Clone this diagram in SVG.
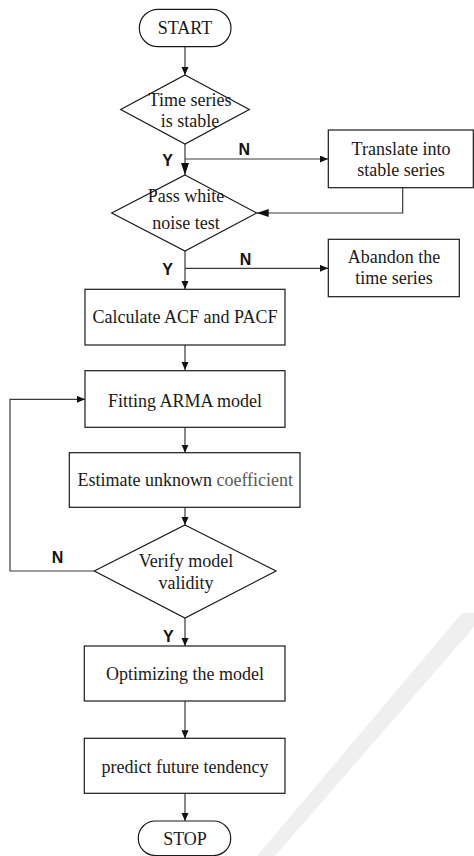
<svg xmlns="http://www.w3.org/2000/svg" width="474" height="856" viewBox="0 0 474 856">
<style>
.shape{fill:#fff;stroke:#1a1a1a;stroke-width:1.2}
.t{font-family:"Liberation Serif","Times New Roman",serif;font-size:18px;fill:#1a1a1a;text-anchor:middle}
.lbl{font-family:"Liberation Sans",Arial,sans-serif;font-size:16px;font-weight:bold;fill:#111;text-anchor:middle}
.c{fill:none;stroke:#3a3a3a;stroke-width:1.2}
</style>
<defs>
<marker id="a" markerUnits="userSpaceOnUse" markerWidth="9" markerHeight="8" refX="8" refY="3.5" orient="auto">
<path d="M0,0 L8,3.5 L0,7 z" fill="#111"/>
</marker>
<marker id="b" markerUnits="userSpaceOnUse" markerWidth="13" markerHeight="9" refX="12" refY="4" orient="auto">
<path d="M0,0 L12,4 L0,8 z" fill="#111"/>
</marker>
</defs>
<rect width="474" height="856" fill="#fff"/>
<g id="watermark">
<polygon points="462,613 480,613 480,620 275,856 257,856" fill="#efefef"/>
</g>
<g id="connectors">
<line class="c" x1="185" y1="47" x2="185" y2="75" marker-end="url(#a)"/>
<line class="c" x1="185" y1="144" x2="185" y2="175" marker-end="url(#b)"/>
<line class="c" x1="185" y1="159" x2="328" y2="159" marker-end="url(#a)"/>
<polyline class="c" points="402.7,188 402.7,213 256.7,213" marker-end="url(#b)"/>
<line class="c" x1="185" y1="251" x2="185" y2="289" marker-end="url(#a)"/>
<line class="c" x1="185" y1="268.3" x2="328" y2="268.3" marker-end="url(#a)"/>
<line class="c" x1="185" y1="345" x2="185" y2="370" marker-end="url(#a)"/>
<polyline class="c" points="94.3,571 10,571 10,399.3 85,399.3" marker-end="url(#a)"/>
<line class="c" x1="185" y1="427.3" x2="185" y2="452.7" marker-end="url(#a)"/>
<line class="c" x1="185" y1="507.3" x2="185" y2="525" marker-end="url(#a)"/>
<line class="c" x1="185" y1="618" x2="185" y2="646" marker-end="url(#a)"/>
<line class="c" x1="185" y1="701" x2="185" y2="738.3" marker-end="url(#a)"/>
<line class="c" x1="185" y1="793.3" x2="185" y2="821" marker-end="url(#a)"/>
<text class="lbl" x="167.5" y="165.7">Y</text>
<text class="lbl" x="244.2" y="155">N</text>
<text class="lbl" x="167.5" y="275">Y</text>
<text class="lbl" x="245.5" y="265">N</text>
<text class="lbl" x="57.5" y="563.3">N</text>
<text class="lbl" x="168.3" y="641.7">Y</text>
</g>
<g id="start">
<rect class="shape" x="139.3" y="9.3" width="91.7" height="37.4" rx="18.7"/>
<text class="t" x="185" y="34.3">START</text>
</g>
<g id="stable">
<polygon class="shape" points="185,75 249.3,109.5 185,144 120.7,109.5"/>
<text class="t" x="190" y="106">Time series</text>
<text class="t" x="190" y="126.7">is stable</text>
</g>
<g id="translate">
<rect class="shape" x="328.3" y="130" width="145" height="57.7"/>
<text class="t" x="401" y="155">Translate into</text>
<text class="t" x="401" y="175.7">stable series</text>
</g>
<g id="whitenoise">
<polygon class="shape" points="185,175 256.7,213 185,251 111.7,213"/>
<text class="t" x="186" y="201.7">Pass white</text>
<text class="t" x="186" y="229.3">noise test</text>
</g>
<g id="abandon">
<rect class="shape" x="328.3" y="239.3" width="131" height="57.4"/>
<text class="t" x="394" y="263.3">Abandon the</text>
<text class="t" x="394" y="284">time series</text>
</g>
<g id="acf">
<rect class="shape" x="85" y="289.3" width="200" height="55.7"/>
<text class="t" x="185" y="322.7">Calculate ACF and PACF</text>
</g>
<g id="fitting">
<rect class="shape" x="85" y="370.7" width="200" height="56.6"/>
<text class="t" x="185" y="406.7">Fitting ARMA model</text>
</g>
<g id="estimate">
<rect class="shape" x="69.3" y="452.7" width="230.7" height="54.6"/>
<text class="t" x="185.3" y="486">Estimate unknown <tspan fill="#5a5a5a">coefficient</tspan></text>
</g>
<g id="verify">
<polygon class="shape" points="185,525 276,571 185,618 94.3,571"/>
<text class="t" x="186" y="566.7">Verify model</text>
<text class="t" x="186" y="589.3">validity</text>
</g>
<g id="optimize">
<rect class="shape" x="84.3" y="646" width="200.7" height="55"/>
<text class="t" x="185" y="680">Optimizing the model</text>
</g>
<g id="predict">
<rect class="shape" x="84.3" y="738.3" width="200.7" height="55"/>
<text class="t" x="185" y="773.3">predict future tendency</text>
</g>
<g id="stop">
<rect class="shape" x="138.3" y="821" width="92.4" height="34.5" rx="17"/>
<text class="t" x="185" y="845">STOP</text>
</g>
</svg>
